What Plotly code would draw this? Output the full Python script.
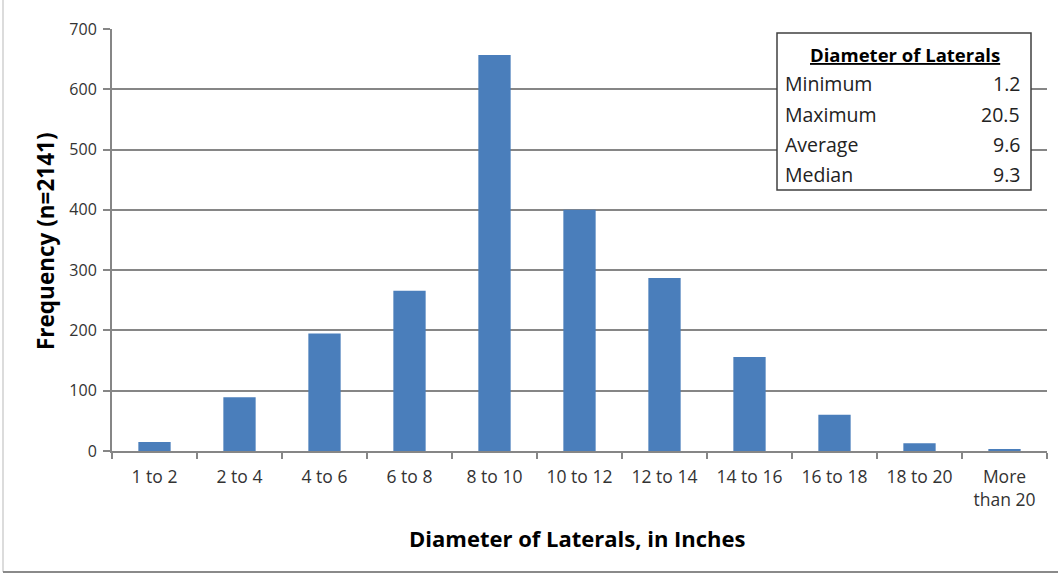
import plotly.graph_objects as go

# Histogram bins and counts
categories = ["1 to 2", "2 to 4", "4 to 6", "6 to 8", "8 to 10", "10 to 12",
              "12 to 14", "14 to 16", "16 to 18", "18 to 20", "More<br>than 20"]
counts = [15, 89, 195, 266, 657, 400, 287, 156, 60, 13, 3]

# Summary statistics box
stat_title = "Diameter of Laterals"
stat_names = ["Minimum", "Maximum", "Average", "Median"]
stat_values = ["1.2", "20.5", "9.6", "9.3"]

y_ticks = [0, 100, 200, 300, 400, 500, 600, 700]

W, H = 1058, 577
L, R, T, B = 112, 11, 29, 126
pw, ph = W - L - R, H - T - B


def px(x):
    return (x - L) / pw


def py(y):
    return (H - B - y) / ph


FONT = "'Open Sans', Lato, sans-serif"
GRID = "#868686"

fig = go.Figure(go.Bar(
    x=categories, y=counts, width=0.38,
    marker=dict(color="#4a7ebb", line=dict(width=0)),
))

fig.update_layout(
    width=W, height=H,
    margin=dict(l=L, r=R, t=T, b=B),
    paper_bgcolor="white", plot_bgcolor="white",
    showlegend=False,
    font=dict(family=FONT, size=14, color="#333333"),
)

fig.update_xaxes(
    type="category", tickson="boundaries",
    showline=True, linecolor=GRID, linewidth=2,
    ticks="outside", ticklen=6, tickcolor=GRID, tickwidth=2,
    ticklabelstandoff=9,
    tickfont=dict(family=FONT, size=17.5, color="#333333"),
    showgrid=False, zeroline=False,
)
fig.update_yaxes(
    range=[0, 700], tickvals=y_ticks,
    showline=True, linecolor=GRID, linewidth=2,
    ticks="outside", ticklen=7, tickcolor=GRID, tickwidth=2,
    ticklabelstandoff=3,
    tickfont=dict(family=FONT, size=16, color="#333333"),
    showgrid=True, gridcolor=GRID, gridwidth=2,
    zeroline=False,
)

shapes = [
    # statistics box
    dict(type="rect", xref="paper", yref="paper",
         x0=px(777), x1=px(1031), y0=py(190), y1=py(33),
         fillcolor="white", line=dict(color="#404040", width=1.5), layer="above"),
    # outer chart frame (left and bottom edges)
    dict(type="line", xref="paper", yref="paper",
         x0=px(3), x1=px(3), y0=py(572), y1=py(0),
         line=dict(color="#d0d0d0", width=1.5)),
    dict(type="line", xref="paper", yref="paper",
         x0=px(3), x1=px(1058), y0=py(572), y1=py(572),
         line=dict(color="#8a8a8a", width=2)),
]

annotations = [
    dict(text="<b>Frequency (n=2141)</b>", xref="paper", yref="paper",
         x=px(45), y=py(241), textangle=-90, showarrow=False,
         font=dict(family=FONT, size=22.5, color="black"),
         xanchor="center", yanchor="middle"),
    dict(text="<b>Diameter of Laterals, in Inches</b>", xref="paper", yref="paper",
         x=px(577), y=py(538), showarrow=False,
         font=dict(family=FONT, size=22, color="black"),
         xanchor="center", yanchor="middle"),
    dict(text="<b><u>" + stat_title + "</u></b>", xref="paper", yref="paper",
         x=px(905), y=py(54), showarrow=False,
         font=dict(family=FONT, size=18.5, color="black"),
         xanchor="center", yanchor="middle"),
]
for i, (name, val) in enumerate(zip(stat_names, stat_values)):
    yy = 84 + 30 * i
    annotations.append(dict(text=name, xref="paper", yref="paper",
                            x=px(783), y=py(yy), showarrow=False,
                            font=dict(family=FONT, size=19.5, color="#222222"),
                            xanchor="left", yanchor="middle"))
    annotations.append(dict(text=val, xref="paper", yref="paper",
                            x=px(1022), y=py(yy), showarrow=False,
                            font=dict(family=FONT, size=19.5, color="#222222"),
                            xanchor="right", yanchor="middle"))

fig.update_layout(shapes=shapes, annotations=annotations)

fig.write_html("out.html")
